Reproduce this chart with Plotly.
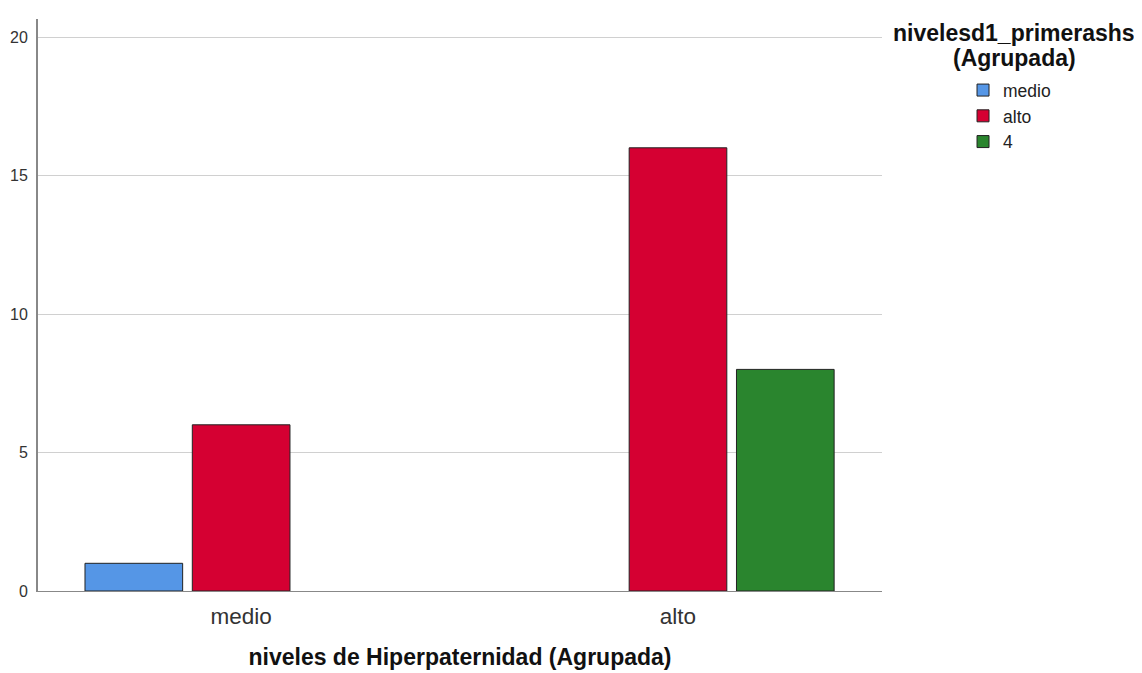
import plotly.graph_objects as go

categories = ["medio", "alto"]
series_names = ["medio", "alto", "4"]
values_medio = [1, None]
values_alto = [6, 16]
values_4 = [None, 8]
colors = ["#5596E6", "#D50032", "#2A852E"]
y_ticks = [0, 5, 10, 15, 20]

fig = go.Figure()
for name, vals, col in zip(series_names, [values_medio, values_alto, values_4], colors):
    fig.add_trace(go.Bar(
        x=categories, y=vals, name=name,
        marker=dict(color=col, line=dict(color="#222222", width=1)),
    ))

fig.update_layout(
    width=1142, height=673,
    barmode="group", bargap=0.263, bargroupgap=0.09,
    plot_bgcolor="white", paper_bgcolor="white",
    margin=dict(l=30, r=268, t=11, b=90, autoexpand=False),
    font=dict(family="Liberation Sans, Arial, sans-serif", color="#222222"),
    xaxis=dict(
        range=[-0.465, 1.467], showline=True, linecolor="#888888", linewidth=1,
        automargin=False,
        ticks="", tickfont=dict(size=22.5, color="#333333"), ticklabelstandoff=5,
        title=dict(text="<b>niveles de Hiperpaternidad (Agrupada)</b>",
                   font=dict(size=23, color="#111111"), standoff=20),
    ),
    yaxis=dict(
        range=[0, 20.65], tickvals=y_ticks, showline=True, linecolor="#888888",
        linewidth=2, showgrid=True, gridcolor="#D0D0D0", gridwidth=1,
        automargin=False,
        ticks="", tickfont=dict(size=16, color="#333333"), zeroline=False,
        ticklabelstandoff=5,
    ),
    legend=dict(
        x=1.096, y=0.907, xanchor="left", yanchor="top",
        font=dict(size=17.5, color="#222222"),
        tracegroupgap=0, traceorder="normal", bgcolor="rgba(0,0,0,0)",
    ),
    annotations=[
        dict(text="<b>nivelesd1_primerashs</b>", xref="paper", yref="paper",
             x=1.1564, y=0.9755, xanchor="center", yanchor="middle",
             showarrow=False, font=dict(size=23, color="#111111")),
        dict(text="<b>(Agrupada)</b>", xref="paper", yref="paper",
             x=1.1564, y=0.9318, xanchor="center", yanchor="middle",
             showarrow=False, font=dict(size=23, color="#111111")),
    ],
)

fig.write_html("out.html")
